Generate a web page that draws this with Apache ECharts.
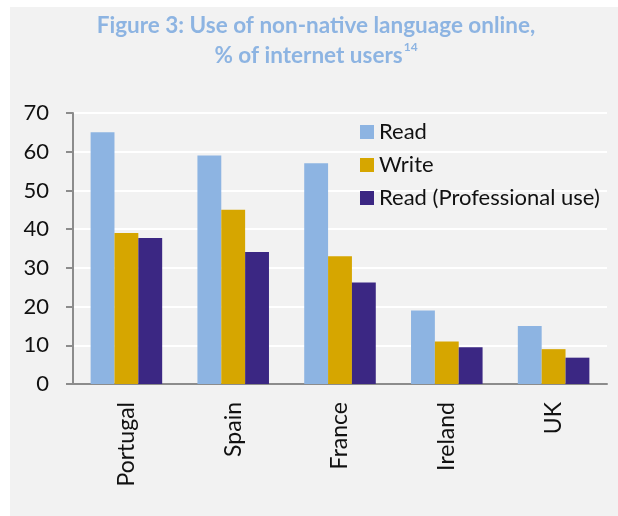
<!DOCTYPE html>
<html>
<head>
<meta charset="utf-8">
<script src="https://cdn.jsdelivr.net/npm/echarts@6/dist/echarts.min.js"></script>
<style>
  html, body { margin: 0; padding: 0; background: #ffffff; }
  #chart { width: 618px; height: 516px; }
</style>
</head>
<body>
<div id="chart"></div>
<script>
// Countries along the category axis
const countries = ['Portugal', 'Spain', 'France', 'Ireland', 'UK'];

// Share of internet users (%) for each type of use
const readValues = [65, 59, 57, 19, 15];
const writeValues = [39, 45, 33, 11, 9];
const readProValues = [37.7, 34.1, 26.2, 9.5, 6.8];

// Value axis ticks
const yTicks = [0, 10, 20, 30, 40, 50, 60, 70];

const seriesNames = ['Read', 'Write', 'Read (Professional use)'];
const seriesColors = ['#8db4e2', '#d6a600', '#3b2783'];
const seriesValues = [readValues, writeValues, readProValues];

const FONT = 'Lato, "Open Sans", sans-serif';

const chart = echarts.init(document.getElementById('chart'), null, { renderer: 'canvas' });

chart.setOption({
  backgroundColor: '#ffffff',
  animation: false,
  graphic: [{
    type: 'rect',
    z: -10,
    shape: { x: 10, y: 7, width: 608, height: 509 },
    style: { fill: '#f2f2f2' },
    silent: true
  }],
  title: {
    left: 316,
    top: 11,
    padding: 0,
    textAlign: 'center',
    text: '{t|Figure 3: Use of non-native language online,}\n{t|% of internet users}{s|14}',
    textStyle: {
      rich: {
        t: { fontFamily: FONT, fontWeight: 'bold', fontSize: 22.5, color: '#8db4e2', lineHeight: 30 },
        s: { fontFamily: FONT, fontWeight: 'bold', fontSize: 12, color: '#8db4e2', verticalAlign: 'top', lineHeight: 30, padding: [0, 0, 14, 1] }
      }
    }
  },
  legend: {
    orient: 'vertical',
    left: 355,
    top: 116,
    itemWidth: 14,
    itemHeight: 14,
    itemGap: 11,
    icon: 'rect',
    data: seriesNames,
    textStyle: { fontFamily: FONT, fontSize: 22, color: '#111111', lineHeight: 22 }
  },
  grid: {
    left: 73,
    right: 11,
    top: 113,
    bottom: 132,
    containLabel: false
  },
  xAxis: {
    type: 'category',
    data: countries,
    axisLine: { show: true, lineStyle: { color: '#8c8c8c', width: 2 } },
    axisTick: { show: false },
    axisLabel: {
      rotate: 90,
      margin: 18,
      fontFamily: FONT,
      fontSize: 23,
      color: '#111111'
    },
    splitLine: { show: false }
  },
  yAxis: {
    type: 'value',
    min: yTicks[0],
    max: yTicks[yTicks.length - 1],
    interval: 10,
    axisLine: { show: true, lineStyle: { color: '#8c8c8c', width: 2 } },
    axisTick: { show: true, inside: false, length: 7, lineStyle: { color: '#8c8c8c', width: 2 } },
    axisLabel: {
      margin: 24,
      fontFamily: FONT,
      fontSize: 22,
      color: '#111111',
      formatter: function (v) { return yTicks.indexOf(v) >= 0 ? String(v) : ''; }
    },
    splitLine: { show: true, lineStyle: { color: '#ffffff', width: 2 } }
  },
  series: seriesNames.map(function (name, i) {
    return {
      name: name,
      type: 'bar',
      data: seriesValues[i],
      barGap: '0%',
      barCategoryGap: '33%',
      itemStyle: { color: seriesColors[i] }
    };
  })
});
</script>
</body>
</html>
